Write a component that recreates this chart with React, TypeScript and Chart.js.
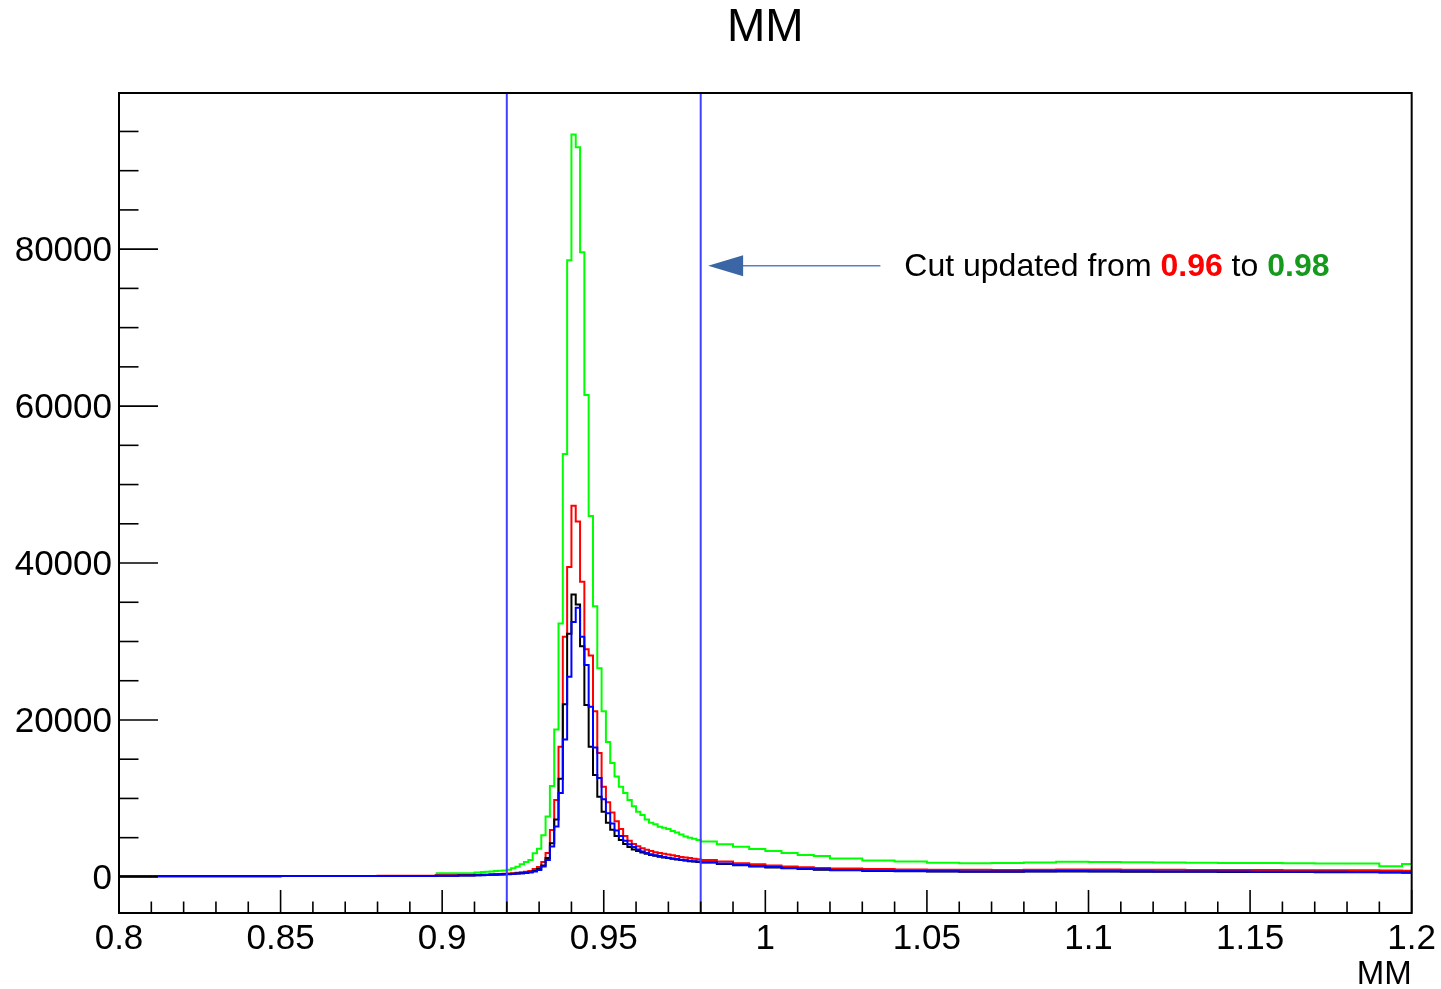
import React, { useEffect, useRef } from 'react';
import { Chart, registerables } from 'chart.js';

Chart.register(...registerables);

// ---------- DATA ----------
// lower bin edges (MM); the histogram ends at histEnd
const binEdges = [
  0.8, 0.85, 0.88, 0.898, 0.905, 0.91,
  0.912, 0.91333, 0.91467, 0.916, 0.91733, 0.91867, 0.92, 0.92133, 0.92267, 0.924,
  0.92533, 0.92667, 0.928, 0.92933, 0.93067, 0.932, 0.93333, 0.93467, 0.936, 0.93733,
  0.93867, 0.94, 0.94133, 0.94267, 0.944, 0.94533, 0.94667, 0.948, 0.94933, 0.95067,
  0.952, 0.95333, 0.95467, 0.956, 0.95733, 0.95867, 0.96, 0.96133, 0.96267, 0.964,
  0.96533, 0.96667, 0.968, 0.96933, 0.97067, 0.972, 0.97333, 0.97467, 0.976, 0.97733,
  0.97867,
  0.98, 0.985, 0.99, 0.995, 1.0, 1.005, 1.01, 1.015, 1.02,
  1.03, 1.04, 1.05, 1.06, 1.07, 1.08, 1.09, 1.1, 1.11,
  1.12, 1.13, 1.14, 1.15, 1.16, 1.17, 1.18, 1.19, 1.197,
];
const histEnd = 1.2;

const greenCounts = [
  null, null, null, 450, 480, 560,
  620, 650, 700, 740, 780, 830, 900, 1100, 1300, 1600,
  1900, 2150, 3000, 3600, 5300, 7700, 11600, 18800, 32300, 53900,
  78600, 94600, 93000, 79600, 61400, 46000, 34500, 26600, 21100, 17200,
  14500, 12800, 11500, 10700, 9800, 9000, 8300, 7900, 7300, 6900,
  6700, 6400, 6250, 6100, 5850, 5650, 5400, 5150, 5000, 4850,
  4700,
  4500, 4150, 3850, 3550, 3300, 3050, 2800, 2650, 2350,
  2100, 1950, 1800, 1750, 1760, 1850, 1920, 1900, 1870,
  1830, 1800, 1780, 1760, 1740, 1720, 1700, 1350, 1650,
];

const redCounts = [
  100, 120, 150, 200, 250, 280,
  300, 320, 340, 360, 380, 400, 430, 470, 520, 580,
  650, 760, 1020, 1270, 1910, 3060, 5990, 9810, 16600, 30600,
  39500, 47300, 45300, 37600, 29000, 28200, 21100, 15800, 11500, 9500,
  8200, 7100, 6100, 5200, 4600, 4200, 3900, 3650, 3450, 3300,
  3150, 3050, 2950, 2850, 2750, 2650, 2550, 2480, 2400, 2300,
  2250,
  2150, 1950, 1750, 1600, 1450, 1330, 1230, 1150, 1080,
  1000, 950, 920, 900, 890, 920, 950, 940, 920,
  900, 890, 880, 870, 860, 850, 840, 820, 800,
];

const blackCounts = [
  90, 110, 130, 160, 190, 210,
  230, 250, 270, 290, 310, 330, 360, 390, 430, 480,
  530, 600, 750, 1000, 1450, 2400, 4300, 7300, 12500, 22000,
  31000, 36000, 34700, 29400, 21900, 16600, 13000, 10200, 8300, 6900,
  6000, 5200, 4700, 4200, 3800, 3500, 3300, 3100, 2950, 2800,
  2680, 2580, 2480, 2400, 2300, 2230, 2150, 2080, 2010, 1950,
  1900,
  1830, 1650, 1480, 1340, 1210, 1090, 1000, 920, 840,
  760, 710, 680, 660, 650, 680, 700, 690, 670,
  660, 650, 640, 630, 610, 600, 580, 550, 530,
];

const blueCounts = [
  80, 100, 120, 150, 180, 200,
  220, 240, 260, 280, 300, 320, 350, 380, 420, 460,
  510, 580, 700, 890, 1310, 2170, 3860, 6410, 10700, 17500,
  25500, 32500, 34300, 30600, 27000, 21700, 16500, 12600, 9900, 8100,
  6800, 5900, 5200, 4600, 4150, 3800, 3500, 3250, 3050, 2900,
  2750, 2650, 2550, 2450, 2350, 2280, 2200, 2130, 2060, 2000,
  1950,
  1880, 1700, 1520, 1380, 1250, 1130, 1040, 960, 880,
  800, 750, 720, 700, 690, 720, 740, 730, 710,
  700, 690, 680, 670, 660, 650, 630, 600, 580,
];

const xTickValues = [0.8, 0.85, 0.9, 0.95, 1.0, 1.05, 1.1, 1.15, 1.2];
const yTickValues = [0, 20000, 40000, 60000, 80000];
const xMinorStep = 0.01;
const yMinorStep = 5000;
const cutLines = [0.92, 0.98];
const chartTitle = 'MM';
const xAxisTitle = 'MM';
const noteParts = [
  { text: 'Cut updated from ', color: '#000000', bold: false },
  { text: '0.96', color: '#ff0000', bold: true },
  { text: ' to ', color: '#000000', bold: false },
  { text: '0.98', color: '#169a1e', bold: true },
];

// ---------- layout / style constants ----------
const FONT = '"Liberation Sans", Arial, Helvetica, sans-serif';
const noteArrow = { fromX: 1.0356, toX: 0.9823, y: 77900 };
const noteTextX = 1.043;

function toPoints(vals: (number | null)[]) {
  const pts = binEdges.map((e, i) => ({ x: e, y: vals[i] }));
  pts.push({ x: histEnd, y: vals[vals.length - 1] });
  return pts;
}

const rootPlugin = {
  id: 'rootDecor',
  afterDatasetsDraw(chart: any) {
    const { ctx, chartArea, scales } = chart;
    const { left, top, right, bottom } = chartArea;
    const xs = scales.x;
    const ys = scales.y;
    ctx.save();

    // cut lines
    ctx.strokeStyle = '#4040ff';
    ctx.lineWidth = 2;
    cutLines.forEach((v) => {
      const px = xs.getPixelForValue(v);
      ctx.beginPath();
      ctx.moveTo(px, top);
      ctx.lineTo(px, bottom);
      ctx.stroke();
    });

    // frame
    ctx.strokeStyle = '#000';
    ctx.lineWidth = 2;
    ctx.strokeRect(left, top, right - left, bottom - top);

    // y ticks (inward from left)
    ctx.lineWidth = 1.6;
    const nY = Math.floor(ys.max / yMinorStep);
    for (let i = 0; i <= nY; i++) {
      const v = i * yMinorStep;
      const py = ys.getPixelForValue(v);
      const len = i % 4 === 0 ? 39 : 19.5;
      ctx.beginPath();
      ctx.moveTo(left, py);
      ctx.lineTo(left + len, py);
      ctx.stroke();
    }
    // x ticks (inward from bottom)
    const nX = Math.round((xs.max - xs.min) / xMinorStep);
    for (let i = 0; i <= nX; i++) {
      const v = xs.min + i * xMinorStep;
      const px = xs.getPixelForValue(v);
      const len = i % 5 === 0 ? 23 : 11.5;
      ctx.beginPath();
      ctx.moveTo(px, bottom);
      ctx.lineTo(px, bottom - len);
      ctx.stroke();
    }

    // title
    ctx.fillStyle = '#000';
    ctx.font = `46px ${FONT}`;
    ctx.textAlign = 'center';
    ctx.textBaseline = 'middle';
    ctx.fillText(chartTitle, (left + right) / 2, 28);

    // annotation arrow
    const ay = ys.getPixelForValue(noteArrow.y);
    const ax0 = xs.getPixelForValue(noteArrow.fromX);
    const ax1 = xs.getPixelForValue(noteArrow.toX);
    ctx.strokeStyle = '#5a7fbc';
    ctx.lineWidth = 1.5;
    ctx.beginPath();
    ctx.moveTo(ax0, ay);
    ctx.lineTo(ax1 + 30, ay);
    ctx.stroke();
    ctx.fillStyle = '#3b66a6';
    ctx.beginPath();
    ctx.moveTo(ax1, ay);
    ctx.lineTo(ax1 + 35, ay - 10.5);
    ctx.lineTo(ax1 + 35, ay + 10.5);
    ctx.closePath();
    ctx.fill();

    // annotation text
    let tx = xs.getPixelForValue(noteTextX);
    ctx.textAlign = 'left';
    ctx.textBaseline = 'alphabetic';
    noteParts.forEach((p) => {
      ctx.font = `${p.bold ? 'bold ' : ''}32px ${FONT}`;
      ctx.fillStyle = p.color;
      ctx.fillText(p.text, tx, ay + 10);
      tx += ctx.measureText(p.text).width;
    });

    ctx.restore();
  },
};

export default function App() {
  const canvasRef = useRef<HTMLCanvasElement | null>(null);

  useEffect(() => {
    document.body.style.margin = '0';
    const canvas = canvasRef.current;
    if (!canvas) return;
    const lineDs = (label: string, vals: (number | null)[], color: string) => ({
      label,
      data: toPoints(vals),
      borderColor: color,
      backgroundColor: color,
      borderWidth: 2,
      stepped: 'before' as const,
      pointRadius: 0,
      fill: false,
      spanGaps: false,
    });
    const chart = new Chart(canvas, {
      type: 'line',
      data: {
        datasets: [
          lineDs('blue', blueCounts, '#0000ff'),
          lineDs('black', blackCounts, '#000000'),
          lineDs('red', redCounts, '#ff0000'),
          lineDs('green', greenCounts, '#00ff00'),
        ],
      },
      options: {
        animation: false,
        responsive: false,
        devicePixelRatio: 1,
        layout: { padding: { top: 93, right: 28, left: 0, bottom: 0 } },
        plugins: {
          legend: { display: false },
          tooltip: { enabled: false },
          title: { display: false },
        },
        scales: {
          x: {
            type: 'linear',
            min: 0.8,
            max: 1.2,
            afterBuildTicks: (s: any) => {
              s.ticks = xTickValues.map((v) => ({ value: v }));
            },
            afterFit: (s: any) => {
              s.height = 76;
            },
            grid: { display: false, drawTicks: false },
            border: { display: false },
            ticks: {
              color: '#000',
              font: { family: FONT, size: 35 },
              padding: 5,
              maxRotation: 0,
              autoSkip: false,
              callback: (v: any) => String(Number(Number(v).toFixed(2))),
            },
            title: {
              display: true,
              text: xAxisTitle,
              align: 'end',
              color: '#000',
              font: { family: FONT, size: 33, lineHeight: 1 },
              padding: { top: 0, bottom: -2 },
            },
          },
          y: {
            type: 'linear',
            min: -4600,
            max: 99900,
            afterBuildTicks: (s: any) => {
              s.ticks = yTickValues.map((v) => ({ value: v }));
            },
            afterFit: (s: any) => {
              s.width = 119;
            },
            grid: { display: false, drawTicks: false },
            border: { display: false },
            ticks: {
              color: '#000',
              font: { family: FONT, size: 35 },
              padding: 7,
              labelOffset: 2,
              callback: (v: any) => String(v),
            },
          },
        },
      },
      plugins: [rootPlugin],
    });
    return () => chart.destroy();
  }, []);

  return (
    <div style={{ width: 1441, height: 989, background: '#fff' }}>
      <canvas ref={canvasRef} width={1441} height={989} style={{ display: 'block' }} />
    </div>
  );
}
